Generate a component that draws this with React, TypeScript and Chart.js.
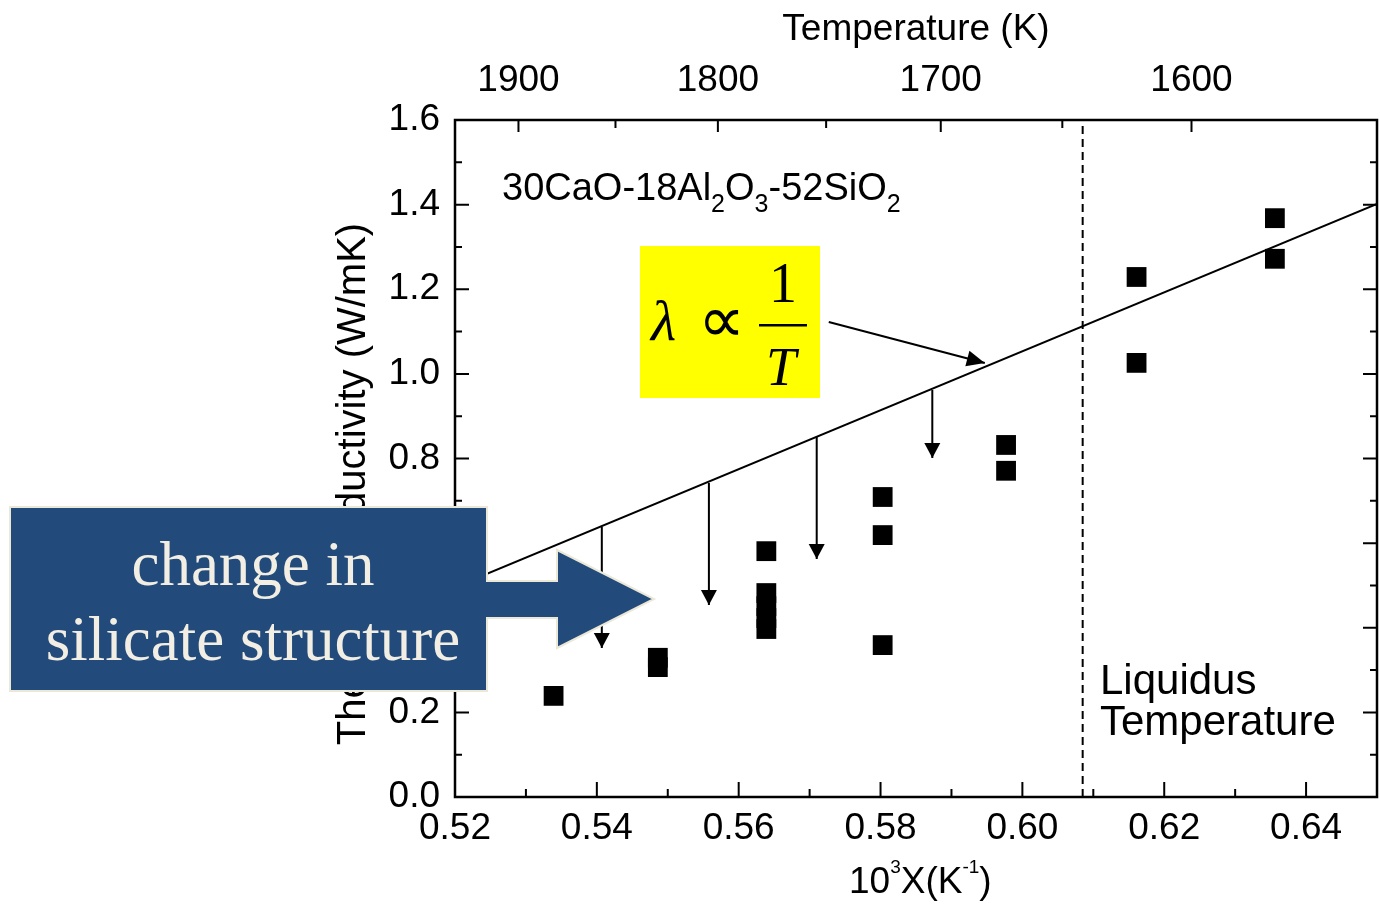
import React, { useEffect, useRef } from "react";
import { Chart, registerables } from "chart.js";

Chart.register(...registerables);

// ---- axis ticks ----
const xTickValues = [0.52, 0.54, 0.56, 0.58, 0.6, 0.62, 0.64];
const xMinorTicks = [0.53, 0.55, 0.57, 0.59, 0.61, 0.63, 0.65];
const yTickValues = [0, 0.2, 0.4, 0.6, 0.8, 1.0, 1.2, 1.4, 1.6];
const yMinorTicks = [0.1, 0.3, 0.5, 0.7, 0.9, 1.1, 1.3, 1.5];
const topTempTicks = [1900, 1850, 1800, 1750, 1700, 1650, 1600];
const topTempLabels = ["1900", "", "1800", "", "1700", "", "1600"];
const topAxisMin = 0.51701; // in 1000/T units
const topAxisMax = 0.6522;

// ---- data ----
const sampleX = [0.5339, 0.5486, 0.5486, 0.5639, 0.5639, 0.5639, 0.5639, 0.5639, 0.5803, 0.5803, 0.5803, 0.5977, 0.5977, 0.6161, 0.6161, 0.6356, 0.6356];
const sampleY = [0.239, 0.329, 0.307, 0.581, 0.482, 0.451, 0.423, 0.397, 0.709, 0.619, 0.359, 0.832, 0.771, 1.229, 1.026, 1.368, 1.272];
const fitX = [0.52, 0.65];
const fitY = [0.496, 1.4015];
const liquidusX = [0.6085, 0.6085];
const liquidusY = [0, 1.6];
const dropArrowX = [0.5407, 0.5558, 0.571, 0.5873];
const dropArrowFrom = [0.638, 0.742, 0.851, 0.962];
const dropArrowTo = [0.352, 0.454, 0.5625, 0.801];
const pointerArrowX = [0.5727, 0.5947];
const pointerArrowY = [1.1226, 1.0257];

const SANS = "'Liberation Sans', Arial, sans-serif";
const SERIF = "'Liberation Serif', 'Times New Roman', serif";

const decorPlugin = {
  id: "decor",
  afterDatasetsDraw(chart: any) {
    const { ctx, chartArea: ca, scales } = chart;
    const xs = scales.x, ys = scales.y, x2 = scales.x2;
    ctx.save();
    // arrow heads
    chart.data.datasets.forEach((ds: any, i: number) => {
      if (!ds.arrowHead) return;
      const pts = chart.getDatasetMeta(i).data;
      const a = pts[pts.length - 2], b = pts[pts.length - 1];
      const ang = Math.atan2(b.y - a.y, b.x - a.x);
      const L = ds.arrowHead.len, W = ds.arrowHead.width / 2;
      const c = Math.cos(ang), s = Math.sin(ang);
      ctx.beginPath();
      ctx.moveTo(b.x, b.y);
      ctx.lineTo(b.x - L * c + W * s, b.y - L * s - W * c);
      ctx.lineTo(b.x - L * c - W * s, b.y - L * s + W * c);
      ctx.closePath();
      ctx.fillStyle = "#000";
      ctx.fill();
    });
    // frame
    ctx.strokeStyle = "#000";
    ctx.lineWidth = 2.5;
    ctx.strokeRect(ca.left, ca.top, ca.right - ca.left, ca.bottom - ca.top);
    ctx.lineWidth = 2;
    ctx.beginPath();
    xTickValues.forEach((v) => {
      const p = xs.getPixelForValue(v);
      ctx.moveTo(p, ca.bottom); ctx.lineTo(p, ca.bottom - 15);
    });
    xMinorTicks.forEach((v) => {
      const p = xs.getPixelForValue(v);
      ctx.moveTo(p, ca.bottom); ctx.lineTo(p, ca.bottom - 8);
    });
    yTickValues.forEach((v) => {
      const p = ys.getPixelForValue(v);
      ctx.moveTo(ca.left, p); ctx.lineTo(ca.left + 14, p);
      ctx.moveTo(ca.right, p); ctx.lineTo(ca.right - 14, p);
    });
    yMinorTicks.forEach((v) => {
      const p = ys.getPixelForValue(v);
      ctx.moveTo(ca.left, p); ctx.lineTo(ca.left + 7, p);
      ctx.moveTo(ca.right, p); ctx.lineTo(ca.right - 7, p);
    });
    topTempTicks.forEach((T, i) => {
      const p = x2.getPixelForValue(1000 / T);
      const len = topTempLabels[i] ? 12 : 8;
      ctx.moveTo(p, ca.top); ctx.lineTo(p, ca.top + len);
    });
    ctx.stroke();
    ctx.restore();
  },
  afterDraw(chart: any) {
    const { ctx } = chart;
    ctx.save();
    ctx.fillStyle = "#000";
    // y axis title
    ctx.save();
    ctx.translate(365, 484);
    ctx.rotate(-Math.PI / 2);
    ctx.font = `40px ${SANS}`;
    ctx.textAlign = "center";
    ctx.textBaseline = "alphabetic";
    ctx.fillText("Thermal Conductivity (W/mK)", 0, 0);
    ctx.restore();

    // helper for super/subscript runs
    const runs = (parts: [string, number, number][], x: number, base: number) => {
      ctx.textAlign = "left";
      ctx.textBaseline = "alphabetic";
      let cx = x;
      parts.forEach(([t, size, dy]) => {
        ctx.font = `${size}px ${SANS}`;
        ctx.fillText(t, cx, base + dy);
        cx += ctx.measureText(t).width;
      });
    };
    // bottom axis title
    runs([["10", 37, 0], ["3", 19, -20], ["X(K", 37, 0], ["-1", 19, -20], [")", 37, 0]], 849, 893);
    // composition label
    runs([["30CaO-18Al", 38, 0], ["2", 25, 12], ["O", 38, 0], ["3", 25, 12], ["-52SiO", 38, 0], ["2", 25, 12]], 502, 200);
    // liquidus label
    ctx.font = `42px ${SANS}`;
    ctx.textAlign = "left";
    ctx.fillText("Liquidus", 1100, 694);
    ctx.fillText("Temperature", 1100, 735);

    // yellow formula box
    ctx.fillStyle = "#FFFF00";
    ctx.fillRect(640, 246, 180, 152);
    ctx.fillStyle = "#000";
    ctx.font = `italic 58px ${SERIF}`;
    ctx.textAlign = "left";
    ctx.fillText("\u03BB", 651, 340);
    ctx.font = `66px ${SERIF}`;
    ctx.textAlign = "center";
    ctx.textBaseline = "middle";
    ctx.fillText("\u221D", 721, 325);
    ctx.textBaseline = "alphabetic";
    ctx.font = `56px ${SERIF}`;
    ctx.fillText("1", 783, 302);
    ctx.font = `italic 54px ${SERIF}`;
    ctx.fillText("T", 781, 385);
    ctx.fillRect(759, 324, 48, 2.5);

    // blue callout box with arrow
    ctx.beginPath();
    ctx.moveTo(10, 507);
    ctx.lineTo(487, 507);
    ctx.lineTo(487, 581);
    ctx.lineTo(557, 581);
    ctx.lineTo(557, 550);
    ctx.lineTo(654, 599);
    ctx.lineTo(557, 648);
    ctx.lineTo(557, 618);
    ctx.lineTo(487, 618);
    ctx.lineTo(487, 691);
    ctx.lineTo(10, 691);
    ctx.closePath();
    ctx.fillStyle = "#224A7B";
    ctx.fill();
    ctx.strokeStyle = "#ECE8D8";
    ctx.lineWidth = 2;
    ctx.stroke();
    ctx.fillStyle = "#F2EEE3";
    ctx.font = `63px ${SERIF}`;
    ctx.textAlign = "center";
    ctx.textBaseline = "alphabetic";
    ctx.fillText("change in", 253, 585);
    ctx.fillText("silicate structure", 253, 660);
    ctx.restore();
  },
};

export default function App() {
  const canvasRef = useRef<HTMLCanvasElement | null>(null);

  useEffect(() => {
    const canvas = canvasRef.current;
    if (!canvas) return;
    const tickFont = { family: SANS, size: 37, lineHeight: 1 };
    const noGrid = { display: false, drawTicks: false, tickLength: 0 };

    const arrowSets = dropArrowX.map((x, i) => ({
      type: "scatter" as const,
      data: [
        { x, y: dropArrowFrom[i] },
        { x, y: dropArrowTo[i] },
      ],
      showLine: true,
      borderColor: "#000",
      borderWidth: 2,
      pointRadius: 0,
      arrowHead: { len: 15, width: 16 },
    }));

    const chart = new Chart(canvas, {
      type: "scatter",
      data: {
        datasets: [
          {
            data: fitX.map((x, i) => ({ x, y: fitY[i] })),
            showLine: true,
            borderColor: "#000",
            borderWidth: 2,
            pointRadius: 0,
          },
          {
            data: liquidusX.map((x, i) => ({ x, y: liquidusY[i] })),
            showLine: true,
            borderColor: "#000",
            borderWidth: 2,
            borderDash: [8, 5],
            pointRadius: 0,
          },
          ...arrowSets,
          {
            data: pointerArrowX.map((x, i) => ({ x, y: pointerArrowY[i] })),
            showLine: true,
            borderColor: "#000",
            borderWidth: 2,
            pointRadius: 0,
            clip: false,
            arrowHead: { len: 18, width: 16 },
          } as any,
          {
            data: sampleX.map((x, i) => ({ x, y: sampleY[i] })),
            pointStyle: "rect",
            pointRadius: 14,
            pointBorderWidth: 0,
            backgroundColor: "#000",
            borderColor: "#000",
          },
        ] as any,
      },
      options: {
        responsive: false,
        animation: false,
        events: [],
        layout: { autoPadding: false, padding: { left: 334, right: 3, top: 0, bottom: 0 } },
        plugins: { legend: { display: false }, tooltip: { enabled: false } },
        scales: {
          x: {
            type: "linear",
            position: "bottom",
            min: 0.52,
            max: 0.65,
            grid: noGrid,
            border: { display: false },
            afterBuildTicks: (s: any) => {
              s.ticks = xTickValues.map((value) => ({ value }));
            },
            afterFit: (s: any) => {
              s.height = 110;
              s.paddingLeft = 0;
              s.paddingRight = 0;
            },
            ticks: {
              font: tickFont,
              color: "#000",
              padding: 13.5,
              maxRotation: 0,
              autoSkip: false,
              callback: (v: any) => Number(v).toFixed(2),
            },
          },
          x2: {
            type: "linear",
            position: "top",
            min: topAxisMin,
            max: topAxisMax,
            grid: noGrid,
            border: { display: false },
            afterBuildTicks: (s: any) => {
              s.ticks = topTempTicks.map((T) => ({ value: 1000 / T }));
            },
            afterFit: (s: any) => {
              s.height = 120;
              s.paddingLeft = 0;
              s.paddingRight = 0;
            },
            ticks: {
              font: tickFont,
              color: "#000",
              padding: 20.5,
              maxRotation: 0,
              autoSkip: false,
              callback: (_v: any, i: number) => topTempLabels[i],
            },
            title: {
              display: true,
              text: "Temperature (K)",
              color: "#000",
              font: { family: SANS, size: 37, lineHeight: 1 },
              padding: { top: 11, bottom: 0 },
            },
          },
          y: {
            type: "linear",
            position: "left",
            min: 0,
            max: 1.6,
            grid: noGrid,
            border: { display: false },
            afterBuildTicks: (s: any) => {
              s.ticks = yTickValues.map((value) => ({ value }));
            },
            afterFit: (s: any) => {
              s.width = 121;
              s.paddingTop = 0;
              s.paddingBottom = 0;
            },
            ticks: {
              font: tickFont,
              color: "#000",
              padding: 15,
              autoSkip: false,
              callback: (v: any) => Number(v).toFixed(1),
            },
          },
        },
      } as any,
      plugins: [decorPlugin],
    });
    return () => chart.destroy();
  }, []);

  return (
    <div style={{ position: "absolute", left: 0, top: 0, width: 1380, height: 907, background: "#fff" }}>
      <canvas ref={canvasRef} width={1380} height={907} style={{ display: "block" }} />
    </div>
  );
}
